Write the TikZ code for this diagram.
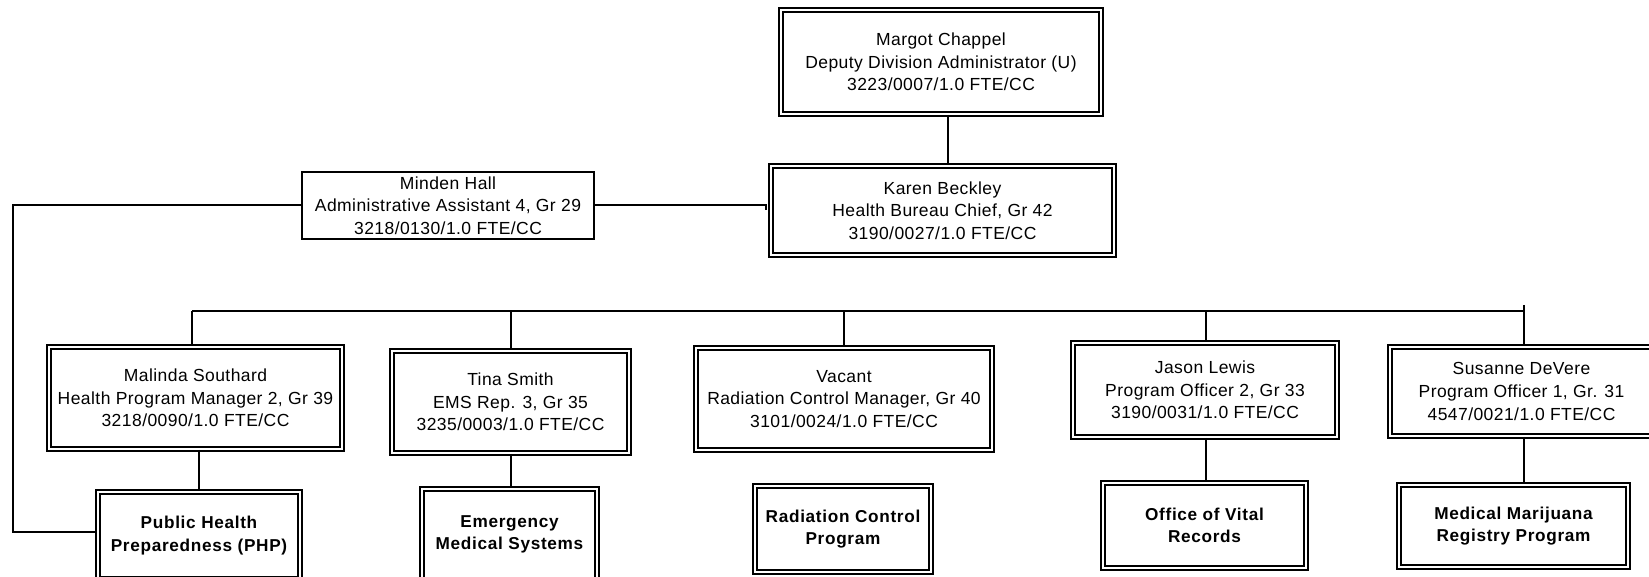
\documentclass[tikz,border=0pt]{standalone}
\usepackage{fontspec}
\setmainfont{Liberation Sans}
\newfontfamily\regfont[LetterSpace=2.5]{Liberation Sans}
\newfontfamily\unitfont[LetterSpace=4]{Liberation Sans}
\begin{document}
\begin{tikzpicture}[x=1pt,y=-1pt,
  every node/.style={inner sep=0pt, align=center, font=\regfont\fontsize{17.5}{22.7}\selectfont},
  dbox/.style={draw, double, double distance=2.8pt, line width=1.7pt},
  sbox/.style={draw, line width=1.9pt},
  unit/.style={font=\unitfont\fontsize{17.2}{22.5}\selectfont\bfseries},
  conn/.style={line width=2pt}]
\useasboundingbox (0,0) rectangle (1649,577);
\clip (0,0) rectangle (1649,577);
\fill[white] (0,0) rectangle (1649,577);
% people
\node[dbox, minimum width=320pt, minimum height=104pt] (margot) at (941,62)
  {Margot Chappel\\Deputy Division Administrator (U)\\3223/0007/1.0 FTE/CC};
\node[dbox, minimum width=343pt, minimum height=89pt] (karen) at (942.5,210.5)
  {Karen Beckley\\Health Bureau Chief, Gr 42\\3190/0027/1.0 FTE/CC};
\node[sbox, minimum width=292pt, minimum height=67pt] (minden) at (448,205.5)
  {Minden Hall\\Administrative Assistant 4, Gr 29\\3218/0130/1.0 FTE/CC};
\node[dbox, minimum width=293pt, minimum height=102pt] (malinda) at (195.5,398)
  {Malinda Southard\\Health Program Manager 2, Gr 39\\3218/0090/1.0 FTE/CC};
\node[dbox, minimum width=237pt, minimum height=102pt] (tina) at (510.5,402)
  {Tina Smith\\EMS Rep. 3, Gr 35\\3235/0003/1.0 FTE/CC};
\node[dbox, minimum width=296pt, minimum height=102pt] (vacant) at (844,399)
  {Vacant\\Radiation Control Manager, Gr 40\\3101/0024/1.0 FTE/CC};
\node[dbox, minimum width=264pt, minimum height=94pt] (jason) at (1205,390)
  {Jason Lewis\\Program Officer 2, Gr 33\\3190/0031/1.0 FTE/CC};
\node[dbox, minimum width=263pt, minimum height=89pt] (susanne) at (1521.5,391.5)
  {Susanne DeVere\\Program Officer 1, Gr. 31\\4547/0021/1.0 FTE/CC};
% units
\node[dbox, unit, minimum width=202pt, minimum height=87pt] (php) at (199,535.5)
  {Public Health\\Preparedness (PHP)};
\node[dbox, unit, minimum width=175pt, minimum height=91pt] (ems) at (509.5,534.5)
  {Emergency\\Medical Systems};
\node[dbox, unit, minimum width=176pt, minimum height=86pt] (rcp) at (843,529)
  {Radiation Control\\Program};
\node[dbox, unit, minimum width=203pt, minimum height=85pt] (ovr) at (1204.5,525.5)
  {Office of Vital\\Records};
\node[dbox, unit, minimum width=229pt, minimum height=82pt] (mmrp) at (1513.5,526)
  {Medical Marijuana\\Registry Program};
% helper coordinates
\coordinate (lft) at (13,0);
\coordinate (busL) at (192,311);
\coordinate (busR) at (1524,311);
% connectors
\draw[conn] ([xshift=7pt]margot.south) -- ([xshift=7pt]margot.south |- karen.north);
\draw[conn] (minden.east) -- ([xshift=-4pt]minden.east -| karen.west) -- ([xshift=-4pt]karen.west);
\draw[conn] (minden.west) -- (minden.west -| lft) |- ([yshift=4pt]php.west);
\draw[conn] (busL) -- (busR);
\draw[conn] (busL) -- (busL |- malinda.north);
\draw[conn] (tina.north |- busL) -- (tina.north);
\draw[conn] (vacant.north |- busL) -- (vacant.north);
\draw[conn] ([xshift=1pt]jason.north |- busL) -- ([xshift=1pt]jason.north);
\draw[conn] ([yshift=6pt]busR) -- (busR |- susanne.north);
\draw[conn] (php.north |- malinda.south) -- (php.north);
\draw[conn] (tina.south) -- (tina.south |- ems.north);
\draw[conn] ([xshift=1pt]jason.south) -- ([xshift=1pt]jason.south |- ovr.north);
\draw[conn] (busR |- susanne.south) -- (busR |- mmrp.north);
\end{tikzpicture}
\end{document}
